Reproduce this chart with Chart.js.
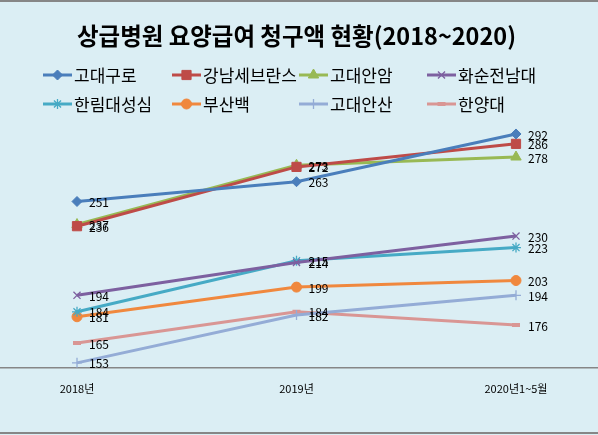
<!DOCTYPE html>
<html>
<head>
<meta charset="utf-8">
<script src="https://cdn.jsdelivr.net/npm/chart.js@4/dist/chart.umd.min.js"></script>
<style>
    html, body { margin: 0; padding: 0; background: #dbeef4; }
    canvas { display: block; }
</style>
</head>
<body>
<canvas id="claimCanvas" width="598" height="435"></canvas>
<script>
// 상급병원 요양급여 청구액 (2018 ~ 2020년 1~5월)
var categories = ['2018년', '2019년', '2020년1~5월'];

var seriesNames = ['고대구로', '강남세브란스', '고대안암', '화순전남대', '한림대성심', '부산백', '고대안산', '한양대'];

var goryoGuro = [251, 263, 292];
var gangnamSev = [236, 272, 286];
var goryoAnam = [237, 273, 278];
var hwasunJnu = [194, 214, 230];
var hallymSs = [184, 215, 223];
var busanPaik = [181, 199, 203];
var goryoAnsan = [153, 182, 194];
var hanyang = [165, 184, 176];

var seriesValues = [goryoGuro, gangnamSev, goryoAnam, hwasunJnu, hallymSs, busanPaik, goryoAnsan, hanyang];

var colors = ['#4a7ebb', '#be4b48', '#98b954', '#7d60a0', '#46aac5', '#f0883e', '#94acd6', '#d99694'];
var markers = ['rectRot', 'rect', 'triangle', 'crossRot', 'star', 'circle', 'cross', 'line'];
var markerSizes = [5, 6.5, 6, 5, 5, 5, 5, 4];

var korFont = '"Noto Sans CJK KR", "Noto Sans", sans-serif';

// background, frame lines and the long axis line
var frame = {
    id: 'frame',
    beforeDraw: function (chart) {
        var ctx = chart.ctx;
        ctx.save();
        ctx.fillStyle = '#dbeef4';
        ctx.fillRect(0, 0, chart.width, chart.height);
        ctx.strokeStyle = '#868686';
        ctx.lineWidth = 2;
        ctx.beginPath();
        ctx.moveTo(0, 1);
        ctx.lineTo(chart.width, 1);
        ctx.moveTo(0, chart.height - 2);
        ctx.lineTo(chart.width, chart.height - 2);
        ctx.stroke();
        ctx.lineWidth = 1.5;
        ctx.beginPath();
        ctx.moveTo(0, chart.chartArea.bottom);
        ctx.lineTo(chart.width, chart.chartArea.bottom);
        ctx.stroke();
        ctx.restore();
    }
};

// value labels to the right of each point
var valueLabels = {
    id: 'valueLabels',
    afterDatasetsDraw: function (chart) {
        var ctx = chart.ctx;
        ctx.save();
        ctx.font = '12px ' + korFont;
        ctx.fillStyle = '#000';
        ctx.textBaseline = 'middle';
        ctx.textAlign = 'left';
        chart.data.datasets.forEach(function (ds, i) {
            var meta = chart.getDatasetMeta(i);
            meta.data.forEach(function (pt, j) {
                ctx.fillText(String(ds.data[j]), pt.x + 12, pt.y + 1);
            });
        });
        ctx.restore();
    }
};

// legend in a fixed 4 column grid
var gridLegend = {
    id: 'gridLegend',
    afterDraw: function (chart) {
        var ctx = chart.ctx;
        var cols = [43, 172, 299, 427];
        var rows = [75, 104];
        ctx.save();
        chart.data.datasets.forEach(function (ds, i) {
            var x = cols[i % 4];
            var y = rows[Math.floor(i / 4)];
            ctx.strokeStyle = ds.borderColor;
            ctx.lineWidth = 3;
            ctx.beginPath();
            ctx.moveTo(x, y);
            ctx.lineTo(x + 29, y);
            ctx.stroke();
            ctx.fillStyle = ds.pointBackgroundColor;
            ctx.strokeStyle = ds.pointBorderColor;
            ctx.lineWidth = ds.pointBorderWidth;
            Chart.helpers.drawPoint(ctx, {
                pointStyle: ds.pointStyle,
                radius: ds.pointRadius,
                borderWidth: ds.pointBorderWidth,
                rotation: 0
            }, x + 14.5, y);
            ctx.fillStyle = '#000';
            ctx.font = '17px ' + korFont;
            ctx.textBaseline = 'middle';
            ctx.textAlign = 'left';
            ctx.fillText(ds.label, x + 31, y + 1);
        });
        ctx.restore();
    }
};

function buildDatasets() {
    return seriesNames.map(function (name, i) {
        var isCross = markers[i] === 'crossRot' || markers[i] === 'star' || markers[i] === 'cross';
        return {
            label: name,
            data: seriesValues[i],
            borderColor: colors[i],
            backgroundColor: colors[i],
            borderWidth: 3,
            tension: 0,
            pointStyle: markers[i],
            pointRadius: markerSizes[i],
            pointHoverRadius: markerSizes[i],
            pointBackgroundColor: colors[i],
            pointBorderColor: colors[i],
            pointBorderWidth: markers[i] === 'line' ? 4 : (isCross ? 1.3 : 1)
        };
    });
}

function claimChart() {
    var ctx = document.getElementById('claimCanvas').getContext('2d');
    var chart = new Chart(ctx, {
        type: 'line',
        data: {
            labels: categories,
            datasets: buildDatasets()
        },
        options: {
            responsive: false,
            animation: false,
            layout: {
                padding: { left: 77, right: 82, top: 0, bottom: 26 }
            },
            plugins: {
                legend: { display: false },
                tooltip: { enabled: false },
                title: {
                    display: true,
                    text: '상급병원 요양급여 청구액 현황(2018~2020)',
                    color: '#000',
                    font: { family: korFont, size: 24, weight: 'bold' },
                    padding: { top: 21, bottom: 71 }
                }
            },
            scales: {
                x: {
                    offset: false,
                    grid: { display: false, drawTicks: false },
                    border: { display: false },
                    ticks: {
                        color: '#000',
                        padding: 14,
                        font: { family: korFont, size: 11 },
                        maxRotation: 0,
                        autoSkip: false
                    }
                },
                y: {
                    display: false,
                    min: 150,
                    max: 300
                }
            }
        },
        plugins: [frame, valueLabels, gridLegend]
    });
}

claimChart();
</script>
</body>
</html>
